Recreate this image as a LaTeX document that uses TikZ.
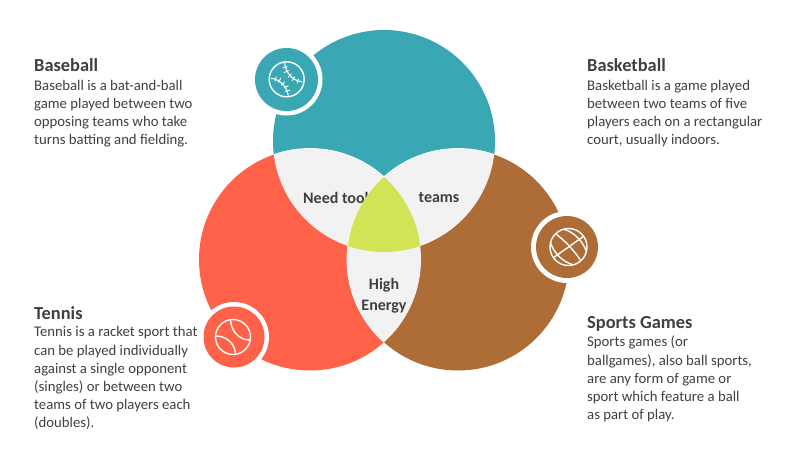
\documentclass[tikz,border=0pt]{standalone}
\usepackage{fontspec}
\setmainfont{Carlito}
\definecolor{tealball}{HTML}{3AA7B4}
\definecolor{redball}{HTML}{FF6149}
\definecolor{brownball}{HTML}{AE6C37}
\definecolor{limeball}{HTML}{D2E356}
\definecolor{lensgray}{HTML}{F2F2F2}
\definecolor{textgray}{HTML}{404040}
\tikzset{
  title/.style = {anchor=north west, inner sep=0pt, font=\fontsize{18.4}{20}\selectfont\bfseries, text=textgray},
  blurb/.style = {anchor=north west, inner sep=0pt, align=left, font=\fontsize{14.75}{18.1}\selectfont, text=textgray},
  lens/.style = {inner sep=0pt, align=center, font=\fontsize{16}{21.5}\selectfont\bfseries, text=textgray},
  iconline/.style = {draw=white, line width=1.4pt, line cap=round}
}
\newcommand{\tealcirc}{(384,141) circle (111)}
\newcommand{\redcirc}{(310,259.5) circle (111)}
\newcommand{\browncirc}{(458,259.5) circle (111)}
\begin{document}
\begin{tikzpicture}[x=1pt,y=-1pt]
  \useasboundingbox (0,0) rectangle (800,467);
  \fill[white] (0,0) rectangle (800,467);
  % three circles
  \fill[tealball] \tealcirc;
  \fill[redball] \redcirc;
  \fill[brownball] \browncirc;
  % overlaps
  \begin{scope}
    \clip \tealcirc;
    \fill[lensgray, draw=white, line width=0.8pt] \redcirc;
    \fill[lensgray, draw=white, line width=0.8pt] \browncirc;
  \end{scope}
  \begin{scope}
    \clip \redcirc;
    \fill[lensgray, draw=white, line width=0.8pt] \browncirc;
  \end{scope}
  \node[lens, anchor=west] (needtool) at (303,198) {Need tool};
  \node[lens] (teams) at (439,198) {teams};
  \node[lens] (high) at (384,295.5) {High\\Energy};
  % the lime part hides the end of the label
  \begin{scope}
    \clip \redcirc;
    \clip \browncirc;
    \fill[limeball] \tealcirc;
  \end{scope}
  % baseball badge
  \fill[white] (286.5,79.5) circle (36);
  \fill[tealball] (286.5,79.5) circle (31.5);
  \draw[iconline] (286.7,79.3) circle (17.5);
  \begin{scope}[shift={(286.7,79.3)}]
    \draw[iconline, line width=1.1pt] (-2,-16) .. controls (-1,-7) and (5,1) .. (15,2.5);
    \draw[iconline, line width=1.1pt] (-15.5,-1) .. controls (-7,0) and (0,7) .. (1.5,16);
    \foreach \x/\y/\r in {-1.6/-12/-15, -0.3/-7.8/-25, 3/-3.8/-45, 6.7/-0.6/-60, 11/1.7/-75,
        -11/-0.4/-75, -7.2/1/-60, -3.8/4.2/-45, -0.6/7.5/-25, 1/11.5/-15}{
      \draw[white, line width=0.9pt] (\x,\y) ++(\r:2.5) -- ++(\r+180:5);
    }
  \end{scope}
  % tennis badge
  \fill[white] (234,337) circle (35);
  \fill[redball] (234,337) circle (30.5);
  \draw[iconline] (233,337) circle (17.5);
  \begin{scope}
    \clip (233,337) circle (17.5);
    \draw[iconline] (230.5,320) .. controls (231,331) and (239,340) .. (250,340);
    \draw[iconline] (216,336) .. controls (226,336) and (235,343) .. (235.5,354);
  \end{scope}
  % basketball badge
  \fill[white] (567,247) circle (36);
  \fill[brownball] (567,247) circle (31);
  \draw[iconline] (568.5,247) circle (18.5);
  \begin{scope}
    \clip (568.5,247) circle (18.5);
    \draw[iconline] (556,234) .. controls (564,240) and (574,250) .. (581,261);
    \draw[iconline] (584,236) -- (553,258);
    \draw[iconline] (563,229) .. controls (575,232) and (584,243) .. (587,253);
    \draw[iconline] (550,241) .. controls (553,252) and (562,262) .. (574,265);
  \end{scope}
  % texts
  \node[title] (baseballhd) at (34,58) {Baseball};
  \node[blurb] (baseballtx) at (34,79.7) {Baseball is a bat-and-ball\\game played between two\\opposing teams who take\\turns batting and fielding.};
  \node[title] (baskethd) at (587,58) {Basketball};
  \node[blurb] (baskettx) at (587,79.7) {Basketball is a game played\\between two teams of five\\players each on a rectangular\\court, usually indoors.};
  \node[title] (tennishd) at (34,306) {Tennis};
  \node[blurb] (tennistx) at (34,326.5) {Tennis is a racket sport that\\can be played individually\\against a single opponent\\(singles) or between two\\teams of two players each\\(doubles).};
  \node[title] (sportshd) at (587,316) {Sports Games};
  \node[blurb] (sportstx) at (587,336) {Sports games (or\\ballgames), also ball sports,\\are any form of game or\\sport which feature a ball\\as part of play.};
\end{tikzpicture}
\end{document}
